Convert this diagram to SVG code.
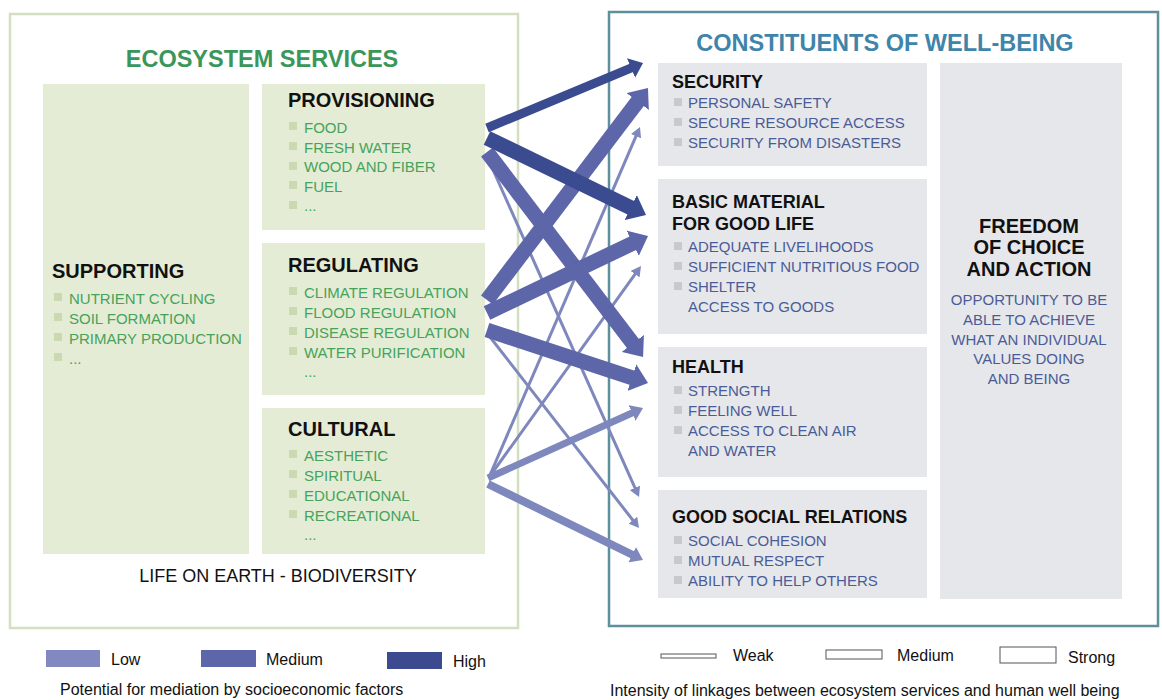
<svg xmlns="http://www.w3.org/2000/svg" width="1162" height="700" viewBox="0 0 1162 700">
<style>
text{font-family:"Liberation Sans",Arial,Helvetica,sans-serif}
.title-g{font-size:23.5px;font-weight:bold;fill:#3a9659}
.title-b{font-size:23.5px;font-weight:bold;fill:#3f84a9}
.hl{font-size:20px;font-weight:bold;fill:#111}
.hr{font-size:18px;font-weight:bold;fill:#111}
.ig{font-size:15px;fill:#45a35a}
.ib{font-size:15px;fill:#4a5c97}
.bg{fill:#c9dab1}
.bb{fill:#c8c9cc}
.gbox{fill:#e5ecd6}
.rbox{fill:#e6e7ea}
.leg{font-size:16px;fill:#111}
.high{stroke:#3b4b8f;fill:none}
.med{stroke:#5c66a9;fill:none}
.low{stroke:#7f88bd;fill:none}
</style>
<defs>
<marker id="hHigh9" markerUnits="userSpaceOnUse" markerWidth="13" markerHeight="21" viewBox="0 0 13 21" refX="3" refY="10.5" orient="auto"><path d="M0,0 L13,10.5 L0,21 Z" fill="#3b4b8f"/></marker>
<marker id="hHigh" markerUnits="userSpaceOnUse" markerWidth="17" markerHeight="28" viewBox="0 0 17 28" refX="3" refY="14" orient="auto"><path d="M0,0 L17,14 L0,28 Z" fill="#3b4b8f"/></marker>
<marker id="hMed" markerUnits="userSpaceOnUse" markerWidth="17" markerHeight="28" viewBox="0 0 17 28" refX="3" refY="14" orient="auto"><path d="M0,0 L17,14 L0,28 Z" fill="#5c66a9"/></marker>
<marker id="hLow" markerUnits="userSpaceOnUse" markerWidth="10" markerHeight="11" viewBox="0 0 10 11" refX="3" refY="5.5" orient="auto"><path d="M0,0 L10,5.5 L0,11 Z" fill="#7f88bd"/></marker>
<marker id="hLowMid" markerUnits="userSpaceOnUse" markerWidth="12" markerHeight="17" viewBox="0 0 12 17" refX="3" refY="8.5" orient="auto"><path d="M0,0 L12,8.5 L0,17 Z" fill="#7f88bd"/></marker>
</defs>
<rect width="1162" height="700" fill="#fff"/>

<g id="ecosystem-services">
<rect x="10" y="14" width="508" height="614" fill="#fff" stroke="#d3e0c0" stroke-width="2.5"/>
<text class="title-g" x="262" y="67" text-anchor="middle">ECOSYSTEM SERVICES</text>
<text x="278" y="582" font-size="18" text-anchor="middle" fill="#111">LIFE ON EARTH - BIODIVERSITY</text>
</g>

<g id="supporting">
<rect class="gbox" x="43" y="84" width="206" height="470"/>
<text class="hl" x="52" y="278">SUPPORTING</text>
<rect class="bg" x="54" y="293" width="8" height="8"/><text class="ig" x="69" y="304">NUTRIENT CYCLING</text>
<rect class="bg" x="54" y="313" width="8" height="8"/><text class="ig" x="69" y="324">SOIL FORMATION</text>
<rect class="bg" x="54" y="333" width="8" height="8"/><text class="ig" x="69" y="344">PRIMARY PRODUCTION</text>
<rect class="bg" x="54" y="353" width="8" height="8"/><text class="ig" x="69" y="364">...</text>
</g>

<g id="provisioning">
<rect class="gbox" x="262" y="84" width="223" height="146"/>
<text class="hl" x="288" y="107">PROVISIONING</text>
<rect class="bg" x="289" y="122" width="8" height="8"/><text class="ig" x="304" y="133">FOOD</text>
<rect class="bg" x="289" y="142" width="8" height="8"/><text class="ig" x="304" y="153">FRESH WATER</text>
<rect class="bg" x="289" y="162" width="8" height="8"/><text class="ig" x="304" y="172">WOOD AND FIBER</text>
<rect class="bg" x="289" y="181" width="8" height="8"/><text class="ig" x="304" y="192">FUEL</text>
<rect class="bg" x="289" y="201" width="8" height="8"/><text class="ig" x="304" y="211">...</text>
</g>

<g id="regulating">
<rect class="gbox" x="262" y="243" width="223" height="152"/>
<text class="hl" x="288" y="272">REGULATING</text>
<rect class="bg" x="289" y="287" width="8" height="8"/><text class="ig" x="304" y="298">CLIMATE REGULATION</text>
<rect class="bg" x="289" y="307" width="8" height="8"/><text class="ig" x="304" y="318">FLOOD REGULATION</text>
<rect class="bg" x="289" y="327" width="8" height="8"/><text class="ig" x="304" y="338">DISEASE REGULATION</text>
<rect class="bg" x="289" y="347" width="8" height="8"/><text class="ig" x="304" y="358">WATER PURIFICATION</text>
<text class="ig" x="304" y="377">...</text>
</g>

<g id="cultural">
<rect class="gbox" x="262" y="408" width="223" height="146"/>
<text class="hl" x="288" y="436">CULTURAL</text>
<rect class="bg" x="289" y="450" width="8" height="8"/><text class="ig" x="304" y="461">AESTHETIC</text>
<rect class="bg" x="289" y="470" width="8" height="8"/><text class="ig" x="304" y="481">SPIRITUAL</text>
<rect class="bg" x="289" y="490" width="8" height="8"/><text class="ig" x="304" y="501">EDUCATIONAL</text>
<rect class="bg" x="289" y="510" width="8" height="8"/><text class="ig" x="304" y="521">RECREATIONAL</text>
<text class="ig" x="304" y="540">...</text>
</g>

<g id="constituents-of-well-being">
<rect x="609" y="12" width="549" height="614" fill="#fff" stroke="#5e8f9c" stroke-width="2.5"/>
<text class="title-b" x="885" y="51" text-anchor="middle">CONSTITUENTS OF WELL-BEING</text>
</g>

<g id="security">
<rect class="rbox" x="658" y="63" width="269" height="103"/>
<text class="hr" x="672" y="88">SECURITY</text>
<rect class="bb" x="674" y="98" width="8" height="8"/><text class="ib" x="688" y="108">PERSONAL SAFETY</text>
<rect class="bb" x="674" y="118" width="8" height="8"/><text class="ib" x="688" y="128">SECURE RESOURCE ACCESS</text>
<rect class="bb" x="674" y="138" width="8" height="8"/><text class="ib" x="688" y="148">SECURITY FROM DISASTERS</text>
</g>

<g id="basic-material">
<rect class="rbox" x="658" y="179" width="269" height="155"/>
<text class="hr" x="672" y="208">BASIC MATERIAL</text>
<text class="hr" x="672" y="230">FOR GOOD LIFE</text>
<rect class="bb" x="674" y="242" width="8" height="8"/><text class="ib" x="688" y="252">ADEQUATE LIVELIHOODS</text>
<rect class="bb" x="674" y="262" width="8" height="8"/><text class="ib" x="688" y="272">SUFFICIENT NUTRITIOUS FOOD</text>
<rect class="bb" x="674" y="282" width="8" height="8"/><text class="ib" x="688" y="292">SHELTER</text>
<text class="ib" x="688" y="312">ACCESS TO GOODS</text>
</g>

<g id="health">
<rect class="rbox" x="658" y="347" width="269" height="130"/>
<text class="hr" x="672" y="373">HEALTH</text>
<rect class="bb" x="674" y="386" width="8" height="8"/><text class="ib" x="688" y="396">STRENGTH</text>
<rect class="bb" x="674" y="406" width="8" height="8"/><text class="ib" x="688" y="416">FEELING WELL</text>
<rect class="bb" x="674" y="426" width="8" height="8"/><text class="ib" x="688" y="436">ACCESS TO CLEAN AIR</text>
<text class="ib" x="688" y="456">AND WATER</text>
</g>

<g id="good-social-relations">
<rect class="rbox" x="658" y="490" width="269" height="108"/>
<text class="hr" x="672" y="523">GOOD SOCIAL RELATIONS</text>
<rect class="bb" x="674" y="536" width="8" height="8"/><text class="ib" x="688" y="546">SOCIAL COHESION</text>
<rect class="bb" x="674" y="556" width="8" height="8"/><text class="ib" x="688" y="566">MUTUAL RESPECT</text>
<rect class="bb" x="674" y="576" width="8" height="8"/><text class="ib" x="688" y="586">ABILITY TO HELP OTHERS</text>
</g>

<g id="freedom">
<rect class="rbox" x="940" y="63" width="182" height="536"/>
<text font-size="20" font-weight="bold" fill="#111" text-anchor="middle" x="1029" y="233">FREEDOM</text>
<text font-size="20" font-weight="bold" fill="#111" text-anchor="middle" x="1029" y="254">OF CHOICE</text>
<text font-size="20" font-weight="bold" fill="#111" text-anchor="middle" x="1029" y="276">AND ACTION</text>
<text class="ib" text-anchor="middle" x="1029" y="305">OPPORTUNITY TO BE</text>
<text class="ib" text-anchor="middle" x="1029" y="325">ABLE TO ACHIEVE</text>
<text class="ib" text-anchor="middle" x="1029" y="345">WHAT AN INDIVIDUAL</text>
<text class="ib" text-anchor="middle" x="1029" y="364">VALUES DOING</text>
<text class="ib" text-anchor="middle" x="1029" y="384">AND BEING</text>
</g>

<g id="connectors" stroke-linecap="butt">
<line class="low" stroke-width="3" x1="490" y1="163" x2="636.2" y2="490.6" marker-end="url(#hLow)"/>
<line class="low" stroke-width="3" x1="490" y1="337" x2="634.7" y2="522.5" marker-end="url(#hLow)"/>
<line class="low" stroke-width="3" x1="490" y1="475" x2="637.2" y2="133.4" marker-end="url(#hLow)"/>
<line class="low" stroke-width="3" x1="490" y1="476" x2="636.9" y2="271.7" marker-end="url(#hLow)"/>
<line class="low" stroke-width="7" x1="488" y1="478" x2="634.8" y2="411.7" marker-end="url(#hLowMid)"/>
<line class="low" stroke-width="8" x1="488" y1="484" x2="634.9" y2="556" marker-end="url(#hLowMid)"/>
<line class="med" stroke-width="15" x1="487" y1="152" x2="634.6" y2="345.8" marker-end="url(#hMed)"/>
<line class="med" stroke-width="15" x1="487" y1="300" x2="639.5" y2="99.1" marker-end="url(#hMed)"/>
<line class="med" stroke-width="15" x1="487" y1="313" x2="635.4" y2="242" marker-end="url(#hMed)"/>
<line class="med" stroke-width="15" x1="487" y1="330" x2="634.7" y2="378.6" marker-end="url(#hMed)"/>
<line class="high" stroke-width="9" x1="487" y1="128" x2="633.8" y2="66.9" marker-end="url(#hHigh9)"/>
<line class="high" stroke-width="15" x1="487" y1="138" x2="633.4" y2="208.9" marker-end="url(#hHigh)"/>
</g>

<g id="legend-mediation">
<rect x="46" y="650" width="54" height="17" fill="#8189c0"/>
<text class="leg" x="111" y="665">Low</text>
<rect x="201" y="650" width="55" height="17" fill="#5c66a8"/>
<text class="leg" x="266" y="665">Medium</text>
<rect x="387" y="652" width="55" height="17" fill="#3c4b90"/>
<text class="leg" x="453" y="667">High</text>
<text class="leg" x="60" y="695">Potential for mediation by socioeconomic factors</text>
</g>

<g id="legend-intensity" fill="#fff" stroke="#555" stroke-width="1">
<rect x="661" y="654" width="55" height="4"/>
<rect x="826" y="650" width="56" height="9"/>
<rect x="1000" y="647" width="56" height="16"/>
<text class="leg" stroke="none" x="733" y="661">Weak</text>
<text class="leg" stroke="none" x="897" y="661">Medium</text>
<text class="leg" stroke="none" x="1068" y="663">Strong</text>
<text class="leg" stroke="none" x="610" y="696">Intensity of linkages between ecosystem services and human well being</text>
</g>
</svg>
